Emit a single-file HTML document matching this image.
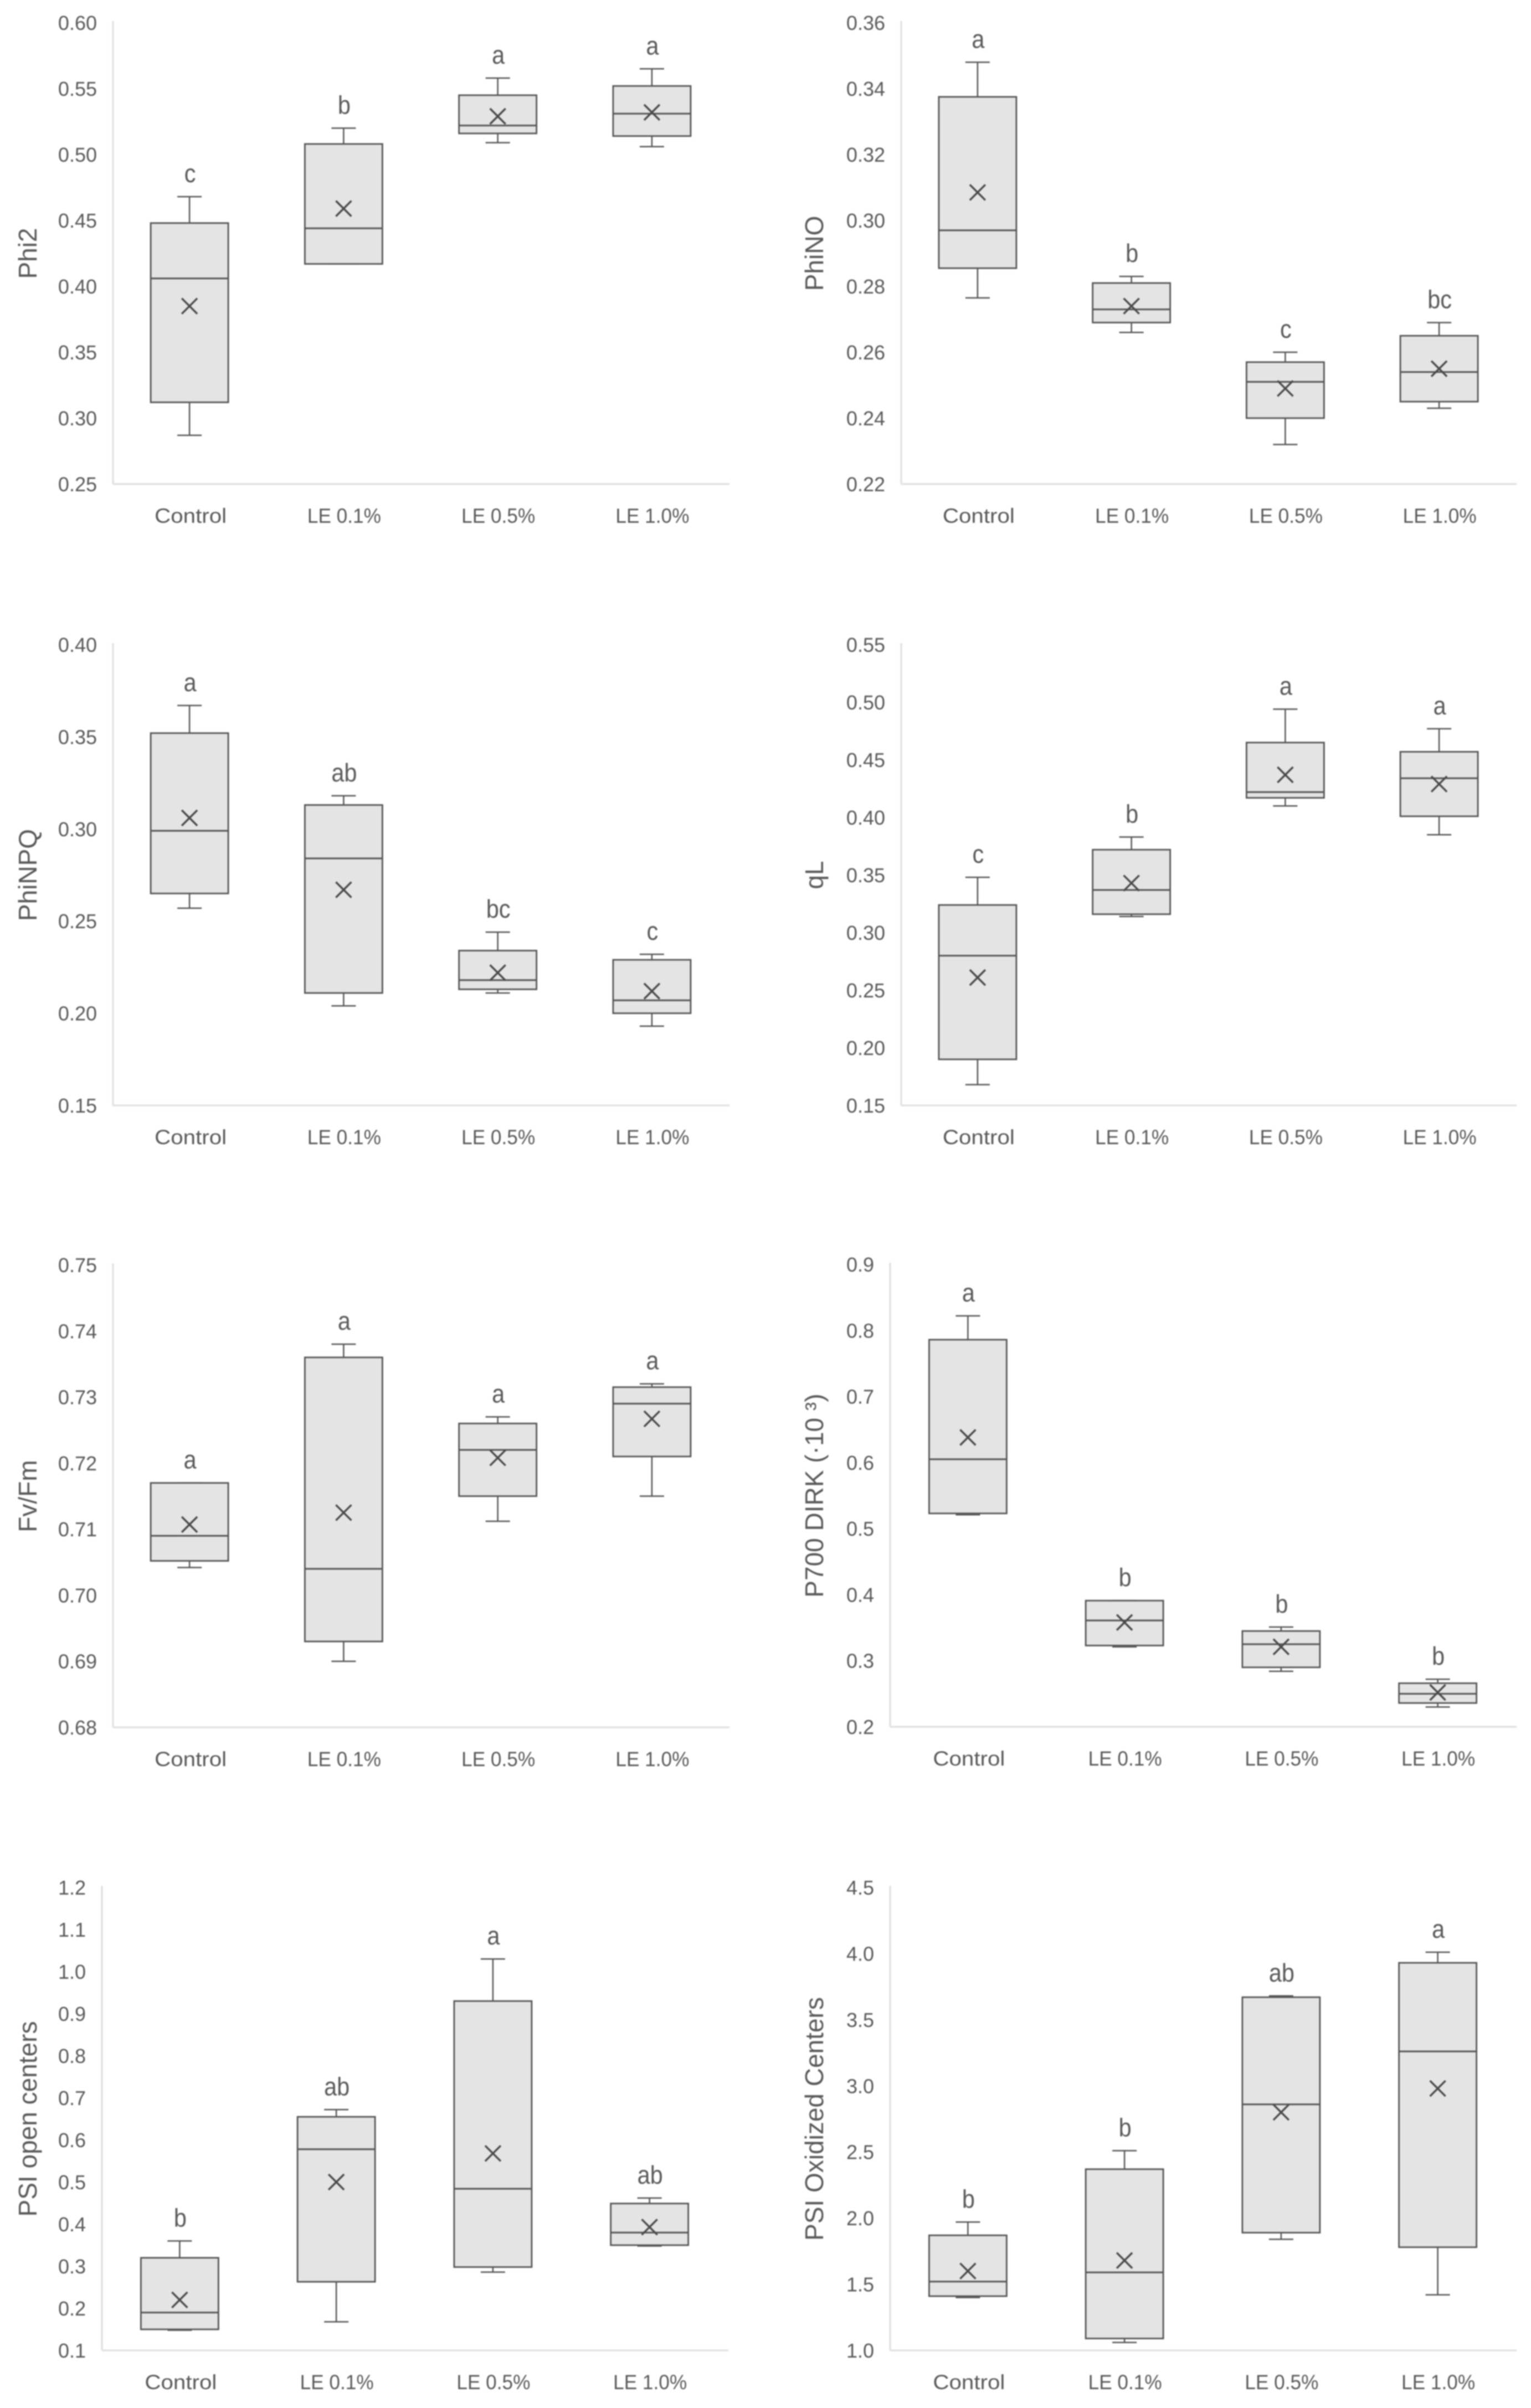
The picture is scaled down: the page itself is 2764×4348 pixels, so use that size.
<!DOCTYPE html>
<html lang="en">
<head>
<meta charset="utf-8">
<title>Box plots of photosynthetic parameters</title>
<style>
html,body{margin:0;padding:0;background:#fff;}
svg{display:block;filter:blur(1px);}
text{font-family:"Liberation Sans",sans-serif;fill:#595959;}
</style>
</head>
<body>
<svg id="figure" xmlns="http://www.w3.org/2000/svg" width="2764" height="4348" viewBox="0 0 2764 4348"></svg>
<script>
// Shared categories
const categories = ["Control", "LE 0.1%", "LE 0.5%", "LE 1.0%"];

// Each stats row: [whisker low, Q1, median, Q3, whisker high, mean], one row per category
const phi2Stats = [[0.287,0.312,0.406,0.448,0.468,0.385],[0.417,0.417,0.444,0.508,0.520,0.459],[0.509,0.516,0.522,0.545,0.558,0.529],[0.506,0.514,0.531,0.552,0.565,0.532]];
const phi2Ticks = ["0.25","0.30","0.35","0.40","0.45","0.50","0.55","0.60"];
const phi2Letters = ["c","b","a","a"];

const phiNOStats = [[0.2765,0.2855,0.297,0.3375,0.348,0.3085],[0.266,0.269,0.273,0.281,0.283,0.274],[0.232,0.240,0.251,0.257,0.260,0.249],[0.243,0.245,0.254,0.265,0.269,0.255]];
const phiNOTicks = ["0.22","0.24","0.26","0.28","0.30","0.32","0.34","0.36"];
const phiNOLetters = ["a","b","c","bc"];

const phiNPQStats = [[0.257,0.265,0.299,0.352,0.367,0.306],[0.204,0.211,0.284,0.313,0.318,0.267],[0.211,0.213,0.218,0.234,0.244,0.222],[0.193,0.200,0.207,0.229,0.232,0.212]];
const phiNPQTicks = ["0.15","0.20","0.25","0.30","0.35","0.40"];
const phiNPQLetters = ["a","ab","bc","c"];

const qLStats = [[0.168,0.190,0.280,0.324,0.348,0.261],[0.314,0.316,0.337,0.372,0.383,0.343],[0.410,0.417,0.422,0.465,0.494,0.437],[0.385,0.401,0.434,0.457,0.477,0.429]];
const qLTicks = ["0.15","0.20","0.25","0.30","0.35","0.40","0.45","0.50","0.55"];
const qLLetters = ["c","b","a","a"];

const fvFmStats = [[0.7042,0.7052,0.709,0.717,0.717,0.7107],[0.690,0.693,0.704,0.736,0.738,0.7125],[0.7112,0.715,0.722,0.726,0.727,0.7208],[0.715,0.721,0.729,0.7315,0.732,0.7267]];
const fvFmTicks = ["0.68","0.69","0.70","0.71","0.72","0.73","0.74","0.75"];
const fvFmLetters = ["a","a","a","a"];

const p700Stats = [[0.521,0.523,0.605,0.786,0.822,0.638],[0.321,0.323,0.361,0.391,0.391,0.358],[0.284,0.290,0.325,0.345,0.351,0.321],[0.230,0.236,0.250,0.266,0.272,0.252]];
const p700Ticks = ["0.2","0.3","0.4","0.5","0.6","0.7","0.8","0.9"];
const p700Letters = ["a","b","b","b"];

const psiOpenStats = [[0.148,0.150,0.190,0.320,0.360,0.220],[0.168,0.263,0.578,0.655,0.672,0.500],[0.286,0.298,0.484,0.930,1.030,0.568],[0.348,0.350,0.380,0.449,0.462,0.393]];
const psiOpenTicks = ["0.1","0.2","0.3","0.4","0.5","0.6","0.7","0.8","0.9","1.0","1.1","1.2"];
const psiOpenLetters = ["b","ab","a","ab"];

const psiOxStats = [[1.40,1.41,1.52,1.87,1.97,1.60],[1.06,1.09,1.59,2.37,2.51,1.68],[1.84,1.89,2.86,3.67,3.68,2.80],[1.42,1.78,3.26,3.93,4.01,2.98]];
const psiOxTicks = ["1.0","1.5","2.0","2.5","3.0","3.5","4.0","4.5"];
const psiOxLetters = ["b","b","ab","a"];

// Panel layout (frame geometry only; values come from the arrays above)
const panels = [
  {key:"phi2",     title:"Phi2",                stats:phi2Stats,    ticks:phi2Ticks,    letters:phi2Letters,    titleX:66,   left:204,  right:1317, top:41,   bottom:874},
  {key:"phino",    title:"PhiNO",               stats:phiNOStats,   ticks:phiNOTicks,   letters:phiNOLetters,   titleX:1486, left:1627, right:2738, top:41,   bottom:874},
  {key:"phinpq",   title:"PhiNPQ",              stats:phiNPQStats,  ticks:phiNPQTicks,  letters:phiNPQLetters,  titleX:66,   left:204,  right:1317, top:1164, bottom:1996},
  {key:"ql",       title:"qL",                  stats:qLStats,      ticks:qLTicks,      letters:qLLetters,      titleX:1486, left:1627, right:2738, top:1164, bottom:1996},
  {key:"fvfm",     title:"Fv/Fm",               stats:fvFmStats,    ticks:fvFmTicks,    letters:fvFmLetters,    titleX:66,   left:204,  right:1317, top:2284, bottom:3119},
  {key:"p700",     title:"P700 DIRK (\u00b710 \u00b3)", stats:p700Stats, ticks:p700Ticks, letters:p700Letters, titleX:1486, left:1607, right:2738, top:2283, bottom:3118},
  {key:"psi-open", title:"PSI open centers",    stats:psiOpenStats, ticks:psiOpenTicks, letters:psiOpenLetters, titleX:66,   left:184,  right:1315, top:3408, bottom:4244},
  {key:"psi-ox",   title:"PSI Oxidized Centers",stats:psiOxStats,   ticks:psiOxTicks,   letters:psiOxLetters,   titleX:1486, left:1607, right:2738, top:3408, bottom:4244}
];

const NS = "http://www.w3.org/2000/svg";
const INK = "#555555";
const BOX_W = 140;
const CAP_W = 44;
const X_R = 14;
const figure = document.getElementById("figure");

function mk(parent, tag, attrs, txt) {
  const el = document.createElementNS(NS, tag);
  for (const k in attrs) el.setAttribute(k, attrs[k]);
  if (txt !== undefined) el.textContent = txt;
  parent.appendChild(el);
  return el;
}
function line(parent, x1, y1, x2, y2, color, w) {
  return mk(parent, "line", {x1:x1, y1:y1, x2:x2, y2:y2, stroke:color, "stroke-width":w});
}

panels.forEach(function (p) {
  const lo = parseFloat(p.ticks[0]);
  const hi = parseFloat(p.ticks[p.ticks.length - 1]);
  const yOf = function (v) { return p.bottom - (v - lo) / (hi - lo) * (p.bottom - p.top); };
  const step = (p.right - p.left) / categories.length;
  const xOf = function (i) { return p.left + step * (i + 0.5) - 1; };

  const g = mk(figure, "g", {});
  
  

  const yAxis = line(g, p.left, p.top - 3, p.left, p.bottom, "#e2e2e2", 3.5);
  
  

  const xAxis = line(g, p.left, p.bottom, p.right, p.bottom, "#e2e2e2", 3.5);
  
  

  const titleY = (p.top + p.bottom) / 2;
  const title = mk(g, "text", {x:p.titleX, y:titleY, "text-anchor":"middle", "font-size":46,
    transform:"rotate(-90 " + p.titleX + " " + titleY + ")"}, p.title);
  
  

  p.ticks.forEach(function (t) {
    const label = mk(g, "text", {x:p.left - 29, y:yOf(parseFloat(t)) + 13, "text-anchor":"end", "font-size":36}, t);
    
    
  });

  categories.forEach(function (c, i) {
    const s = p.stats[i];
    const x = xOf(i);
    const bg = mk(g, "g", {});
    
    

    const whiskerLow = line(bg, x, yOf(s[0]), x, yOf(s[1]), INK, 2.5);
    
    

    const capLow = line(bg, x - CAP_W / 2, yOf(s[0]), x + CAP_W / 2, yOf(s[0]), INK, 2.5);
    
    

    const whiskerHigh = line(bg, x, yOf(s[4]), x, yOf(s[3]), INK, 2.5);
    
    

    const capHigh = line(bg, x - CAP_W / 2, yOf(s[4]), x + CAP_W / 2, yOf(s[4]), INK, 2.5);
    
    

    const box = mk(bg, "rect", {x:x - BOX_W / 2, y:yOf(s[3]), width:BOX_W, height:yOf(s[1]) - yOf(s[3]),
      fill:"#e4e4e4", stroke:INK, "stroke-width":2.8});
    
    

    const median = line(bg, x - BOX_W / 2, yOf(s[2]), x + BOX_W / 2, yOf(s[2]), INK, 3);
    
    

    const my = yOf(s[5]);
    const mean = mk(bg, "path", {d:"M" + (x - X_R) + " " + (my - X_R) + "L" + (x + X_R) + " " + (my + X_R) +
      "M" + (x + X_R) + " " + (my - X_R) + "L" + (x - X_R) + " " + (my + X_R),
      fill:"none", stroke:"#4a4a4a", "stroke-width":3.5});
    
    

    const lx = x + 1;
    const ly = yOf(s[4]) - 26;
    const letter = mk(g, "text", {x:0, y:0, "text-anchor":"middle", "font-size":46,
      transform:"translate(" + lx + " " + ly + ") scale(0.9 1)"}, p.letters[i]);
    
    

    const catLen = c === "Control" ? 130 : 133;
    const cat = mk(g, "text", {x:x + (c === "Control" ? 2 : 1) - catLen / 2, y:p.bottom + 70, "font-size":37,
      textLength:catLen, lengthAdjust:"spacingAndGlyphs"}, c);
    
    
  });
});
</script>
</body>
</html>
